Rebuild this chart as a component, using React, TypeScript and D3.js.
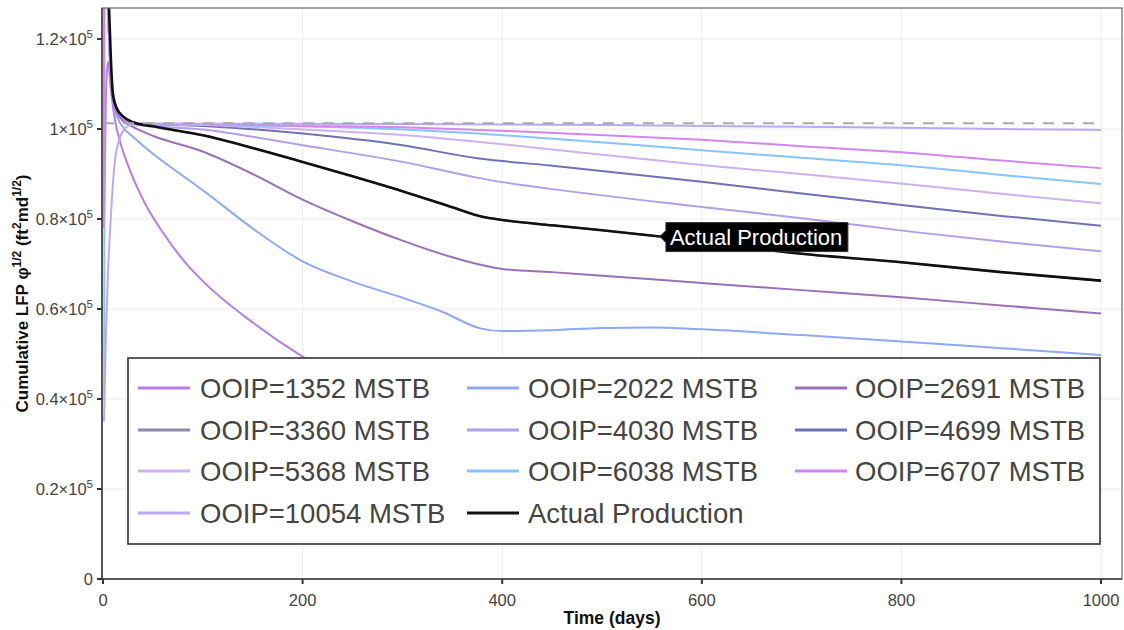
import React from 'react';
import * as d3 from 'd3';

const W = 1124;
const H = 630;

const X_TICKS = [0, 200, 400, 600, 800, 1000];
const Y_TICKS = [0, 20000, 40000, 60000, 80000, 100000, 120000];
const Y_TICK_LABELS = ['0', '0.2', '0.4', '0.6', '0.8', '1', '1.2'];
const REFERENCE_LEVEL = 101300;

type Pt = [number, number];

const ooip1352: Pt[] = [[1, 78000], [3, 108000], [5, 115000], [8, 108500], [12, 102000], [18, 96500], [25, 92000], [42, 83500], [60, 77000], [80, 71000], [100, 66200], [150, 57000], [200, 49400], [300, 38500], [400, 31000], [500, 25500], [600, 21000], [800, 15000], [990, 11000]];
const ooip2022: Pt[] = [[1, 250000], [3, 150000], [5, 127000], [7, 115000], [10, 106500], [15, 102300], [20, 100400], [30, 98300], [50, 94500], [75, 90400], [100, 86400], [150, 77900], [200, 70600], [250, 66100], [300, 62500], [340, 59400], [378, 55700], [400, 55100], [450, 55300], [500, 55800], [550, 55900], [600, 55500], [700, 54200], [800, 52800], [900, 51300], [1000, 49800]];
const ooip2691: Pt[] = [[1, 250000], [3, 150000], [5, 127500], [7, 115500], [10, 107000], [15, 103300], [20, 101800], [30, 100500], [50, 98500], [100, 95000], [150, 90000], [200, 84300], [250, 79500], [300, 75200], [350, 71500], [375, 70000], [400, 68900], [450, 68200], [500, 67400], [600, 65800], [700, 64200], [800, 62600], [900, 60800], [1000, 59000]];
const ooip3360: Pt[] = [[1, 250000], [3, 150000], [5, 130000], [7, 117000], [10, 107500], [14, 104500], [20, 102800], [30, 101500], [50, 100600], [100, 98600], [150, 95800], [200, 92700], [250, 89500], [300, 86200], [350, 82600], [380, 80500], [400, 79800], [450, 78600], [500, 77500], [558, 76100], [600, 75000], [700, 72300], [800, 70400], [900, 68200], [1000, 66300]];
const ooip4030: Pt[] = [[1, 250000], [3, 150000], [5, 128000], [7, 116000], [10, 108000], [15, 104000], [20, 102500], [30, 101000], [100, 99900], [200, 96400], [300, 92700], [375, 89200], [400, 88200], [448, 86700], [600, 82700], [700, 80200], [809, 77200], [900, 75000], [1000, 72800]];
const ooip4699: Pt[] = [[1, 250000], [3, 150000], [5, 128000], [7, 116000], [10, 108000], [15, 104000], [20, 102500], [30, 101200], [100, 100700], [200, 99000], [300, 96400], [375, 93500], [448, 91900], [600, 88300], [700, 85700], [809, 82900], [900, 80700], [1000, 78500]];
const ooip5368: Pt[] = [[1, 250000], [3, 150000], [5, 128000], [7, 116000], [10, 108000], [15, 104000], [20, 102500], [30, 101200], [100, 100900], [200, 99900], [300, 98700], [375, 97200], [448, 95500], [600, 92000], [700, 90000], [809, 87700], [900, 85600], [1000, 83500]];
const ooip6038: Pt[] = [[1.2, 40000], [2, 200000], [3, 150000], [5, 128000], [7, 116000], [10, 108000], [15, 104000], [20, 102500], [30, 101200], [100, 101000], [200, 100600], [300, 99900], [375, 99000], [448, 97900], [600, 95300], [700, 93600], [809, 91800], [900, 89800], [1000, 87800]];
const ooip6707: Pt[] = [[0.8, 78000], [1.6, 180000], [3, 150000], [5, 128000], [7, 116000], [10, 108000], [15, 104000], [20, 102500], [30, 101300], [100, 101100], [200, 100700], [300, 100400], [375, 99800], [448, 99200], [600, 97600], [700, 96200], [809, 94700], [900, 93000], [1000, 91300]];
const ooip10054: Pt[] = [[1, 35000], [3, 55000], [5, 68000], [7, 77000], [10, 88000], [12, 93000], [16, 97500], [20, 99500], [25, 100700], [35, 101200], [100, 101200], [300, 101100], [500, 100900], [700, 100500], [800, 100300], [900, 100000], [1000, 99800]];
const actual: Pt[] = [[4, 160000], [5, 135000], [6, 127000], [8, 115000], [10, 107500], [14, 104500], [20, 102800], [30, 101500], [50, 100600], [100, 98600], [150, 95800], [200, 92700], [250, 89500], [300, 86200], [350, 82600], [380, 80500], [400, 79800], [450, 78600], [500, 77500], [558, 76100], [600, 75000], [700, 72300], [800, 70400], [900, 68200], [1000, 66300]];

const SERIES_NAMES = ['OOIP=1352 MSTB', 'OOIP=2022 MSTB', 'OOIP=2691 MSTB', 'OOIP=3360 MSTB', 'OOIP=4030 MSTB', 'OOIP=4699 MSTB', 'OOIP=5368 MSTB', 'OOIP=6038 MSTB', 'OOIP=6707 MSTB', 'OOIP=10054 MSTB', 'Actual Production'];
const SERIES_DATA = [ooip1352, ooip2022, ooip2691, ooip3360, ooip4030, ooip4699, ooip5368, ooip6038, ooip6707, ooip10054, actual];
const SERIES_COLORS = ['#b57ded', '#8fa9f2', '#9b70b8', '#8a8aa8', '#b1a0e8', '#7072b6', '#cdb2ef', '#88c4ff', '#d486f0', '#b9a9f7', '#111111'];

const HOVER_T = 558;
const HOVER_V = 76100;

const ML = 102, MR = 1122, MT = 8, MB = 579;

export default function App() {
  const x = d3.scaleLinear().domain([-1, 1021]).range([ML, MR]);
  const y = d3.scaleLinear().domain([0, 126900]).range([MB, MT]);
  const line = d3.line<Pt>().x(d => x(d[0])).y(d => y(d[1])).curve(d3.curveMonotoneX);

  const font = "'Liberation Sans', Arial, sans-serif";
  const legendCols = [{ lx: 138, tx: 200 }, { lx: 467, tx: 528 }, { lx: 795, tx: 855 }];
  const legendRows = [388, 430, 471, 513];

  const hoverX = x(HOVER_T);
  const hoverY = y(HOVER_V);

  return (
    <svg width={W} height={H} style={{ position: 'absolute', left: 0, top: 0, background: '#fff' }} fontFamily={font}>
      <defs>
        <clipPath id="plotclip">
          <rect x={ML} y={MT} width={MR - ML} height={MB - MT} />
        </clipPath>
      </defs>
      <rect x={0} y={0} width={W} height={H} fill="#fff" />
      {/* grid */}
      {X_TICKS.filter(t => t > 0).map(t => (
        <line key={'gx' + t} x1={x(t)} x2={x(t)} y1={MT} y2={MB} stroke="#ebebeb" strokeWidth={1} />
      ))}
      {Y_TICKS.filter(t => t > 0).map(t => (
        <line key={'gy' + t} x1={ML} x2={MR} y1={y(t)} y2={y(t)} stroke="#ebebeb" strokeWidth={1} />
      ))}
      {/* series */}
      <g clipPath="url(#plotclip)">
        {SERIES_DATA.map((d, i) => (
          <path key={SERIES_NAMES[i]} d={line(d) || ''} fill="none" stroke={SERIES_COLORS[i]}
            strokeWidth={i === SERIES_DATA.length - 1 ? 2.6 : 2} strokeLinejoin="round" />
        ))}
        <line x1={x(0)} x2={x(1000)} y1={y(REFERENCE_LEVEL)} y2={y(REFERENCE_LEVEL)} stroke="#a8a8a8" strokeWidth={2} strokeDasharray="11,9" />
      </g>
      {/* frame */}
      <rect x={ML} y={MT} width={MR - ML} height={MB - MT} fill="none" stroke="#666" strokeWidth={1.2} />
      <line x1={ML} x2={ML} y1={MT} y2={MB + 1} stroke="#444" strokeWidth={1.6} />
      <line x1={ML} x2={MR} y1={MB} y2={MB} stroke="#444" strokeWidth={1.6} />
      {/* y ticks */}
      {Y_TICKS.map((t, i) => (
        <g key={'yt' + t}>
          <line x1={ML - 5} x2={ML} y1={y(t)} y2={y(t)} stroke="#333" strokeWidth={2} />
          <text x={93} y={y(t) + 6} textAnchor="end" fontSize={16.5} fill="#444">
            {t === 0 ? '0' : (
              <>
                {Y_TICK_LABELS[i] + '×10'}
                <tspan fontSize={11.5} dy={-7}>5</tspan>
              </>
            )}
          </text>
        </g>
      ))}
      {/* x ticks */}
      {X_TICKS.map(t => (
        <g key={'xt' + t}>
          <line x1={x(t)} x2={x(t)} y1={MB} y2={MB + 5} stroke="#333" strokeWidth={2} />
          <text x={x(t)} y={606} textAnchor="middle" fontSize={16.5} fill="#444">{t}</text>
        </g>
      ))}
      {/* axis titles */}
      <text x={(ML + MR) / 2} y={624} textAnchor="middle" fontSize={17.5} fontWeight="bold" fill="#111">Time (days)</text>
      <text transform={`translate(28, ${(MT + MB) / 2}) rotate(-90)`} textAnchor="middle" fontSize={17} fontWeight="bold" fill="#111">
        Cumulative LFP φ<tspan fontSize={12} dy={-7}>1/2</tspan><tspan dy={7}> (ft</tspan><tspan fontSize={12} dy={-7}>2</tspan><tspan dy={7}>md</tspan><tspan fontSize={12} dy={-7}>1/2</tspan><tspan dy={7}>)</tspan>
      </text>
      {/* hover label */}
      <g>
        <path d={`M${hoverX},${hoverY} L${hoverX + 6},${hoverY - 6} L${hoverX + 6},${hoverY - 14} L${hoverX + 188},${hoverY - 14} L${hoverX + 188},${hoverY + 15} L${hoverX + 6},${hoverY + 15} L${hoverX + 6},${hoverY + 6} Z`} fill="#000" stroke="#333" strokeWidth={1} />
        <text x={hoverX + 10} y={hoverY + 8} fontSize={22} fill="#fff">Actual Production</text>
      </g>
      {/* legend */}
      <rect x={128} y={358} width={972} height={186} fill="#fff" stroke="#333" strokeWidth={1.6} />
      {SERIES_NAMES.map((name, i) => {
        const col = legendCols[i % 3];
        const ry = legendRows[Math.floor(i / 3)];
        return (
          <g key={'lg' + name}>
            <line x1={col.lx} x2={col.lx + 52} y1={ry} y2={ry} stroke={SERIES_COLORS[i]} strokeWidth={3} />
            <text x={col.tx} y={ry + 10} fontSize={27.5} fill="#444">{name}</text>
          </g>
        );
      })}
    </svg>
  );
}
